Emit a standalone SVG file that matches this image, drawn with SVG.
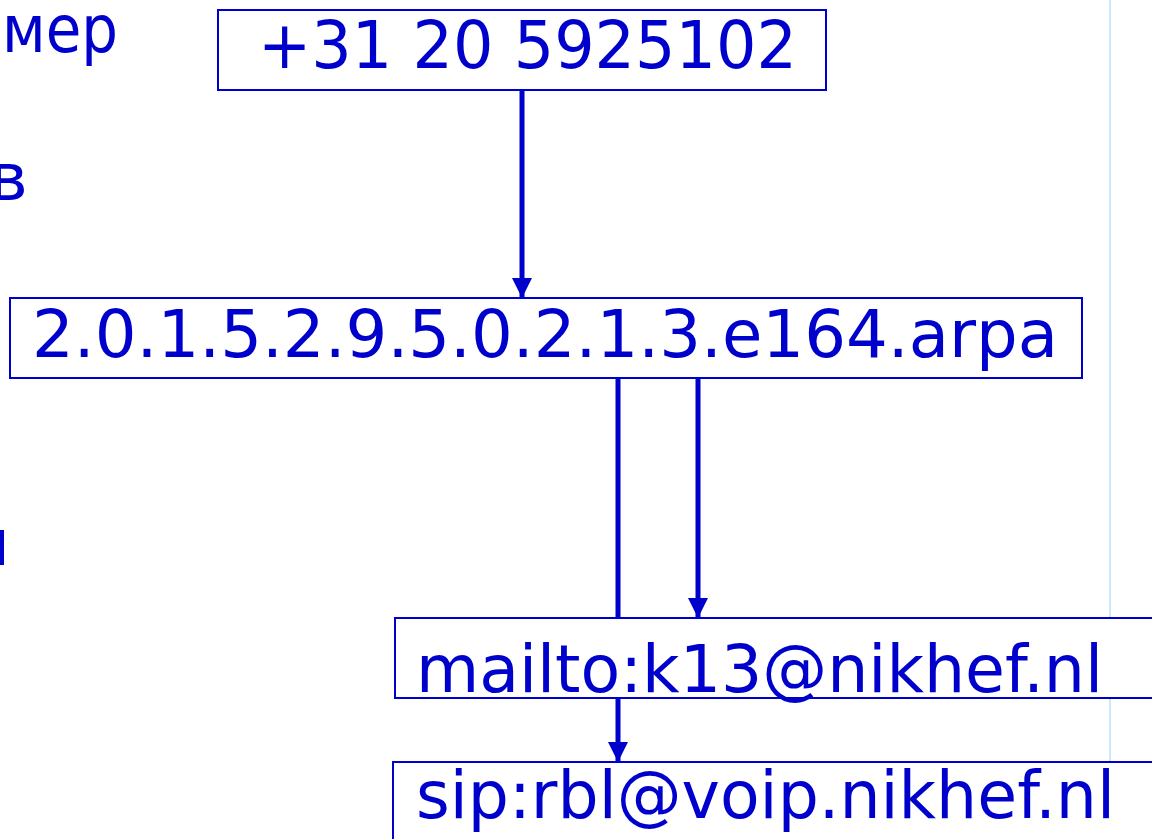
<svg xmlns="http://www.w3.org/2000/svg" width="1152" height="839" viewBox="0 0 1152 839">
<style>
.t{font-family:"DejaVu Sans","Verdana",sans-serif;fill:#0000cc;font-size:66px}
.box{fill:#ffffff;stroke:#0000cc;stroke-width:2}
.c{stroke:#0000cc;stroke-width:5;fill:none}
</style>
<defs>
<marker id="arr" markerUnits="userSpaceOnUse" markerWidth="20" markerHeight="20" refX="20" refY="10" orient="auto" viewBox="0 0 20 20">
<path d="M0,0 L20,10 L0,20 Z" fill="#0000cc"/>
</marker>
</defs>
<rect x="0" y="0" width="1152" height="839" fill="#ffffff"/>
<line x1="1110" y1="0" x2="1110" y2="839" stroke="#cde9f8" stroke-width="2"/>
<g id="side-labels">
<text class="t" x="2" y="52" textLength="116" lengthAdjust="spacingAndGlyphs">мер</text>
<text class="t" x="-11" y="200">в</text>
<rect x="0" y="530" width="4" height="35" fill="#0000cc"/>
</g>
<g id="connectors">
<line class="c" x1="522" y1="91" x2="522" y2="298" marker-end="url(#arr)"/>
<line class="c" x1="618" y1="379" x2="618" y2="618"/>
<line class="c" x1="698" y1="379" x2="698" y2="618" marker-end="url(#arr)"/>
<line class="c" x1="618" y1="699" x2="618" y2="762" marker-end="url(#arr)"/>
</g>
<g id="node-phone">
<rect class="box" x="218" y="10" width="608" height="80"/>
<text class="t" x="258" y="68" textLength="539" lengthAdjust="spacingAndGlyphs">+31 20 5925102</text>
</g>
<g id="node-enum">
<rect class="box" x="10" y="298" width="1072" height="80"/>
<text class="t" x="32" y="357" textLength="1026" lengthAdjust="spacingAndGlyphs">2.0.1.5.2.9.5.0.2.1.3.e164.arpa</text>
</g>
<g id="node-mailto">
<rect class="box" x="395" y="618" width="770" height="80"/>
<text class="t" x="416" y="692" textLength="687" lengthAdjust="spacingAndGlyphs">mailto:k13@nikhef.nl</text>
</g>
<g id="node-sip">
<rect class="box" x="393" y="762" width="780" height="90"/>
<text class="t" x="416" y="818" textLength="699" lengthAdjust="spacingAndGlyphs">sip:rbl@voip.nikhef.nl</text>
</g>
</svg>
